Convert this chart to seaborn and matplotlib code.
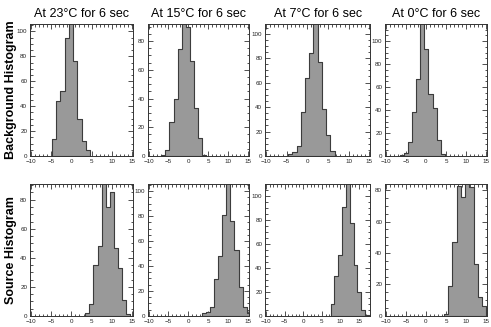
import pandas as pd
import seaborn as sns
import matplotlib.pyplot as plt
from matplotlib.ticker import MultipleLocator

sns.set_style("ticks")
plt.rcParams['font.family'] = ['Liberation Sans', 'DejaVu Sans']
plt.rcParams['text.color'] = 'black'

# titles per column, labels per row
titles = ["At 23°C for 6 sec", "At 15°C for 6 sec", "At 7°C for 6 sec", "At 0°C for 6 sec"]
row_labels = ["Background Histogram", "Source Histogram"]

# histogram bins (start of first bin, bin width) and counts
bg_start = [-4.8, -6.8, -4.65, -6.45]
bg_width = [1.05, 1.02, 1.02, 1.01]
bg_counts = [
    [14, 44, 52, 95, 115, 76, 30, 12, 5],
    [1, 4, 24, 40, 74.5, 100, 89.5, 66, 33.5, 12.6, 1],
    [2, 3, 8, 36, 64, 84, 115, 77, 38, 17, 4],
    [1, 2.6, 12, 38, 67, 120, 93, 54, 41.5, 14, 2],
]
src_start = [3.45, 3.4, 7.35, 4.5]
src_width = [1.0, 1.02, 1.03, 1.05]
src_counts = [
    [2, 8, 35, 48, 95, 75, 85, 47, 33, 11, 1],
    [2, 3.5, 7, 29.5, 48, 81, 110, 76, 53, 23.5, 7, 2],
    [10, 33, 51, 91, 115, 77, 42.5, 20, 5, 1],
    [1, 19, 47, 82.5, 75.5, 85, 82, 33, 12, 6],
]

# axis ranges
bg_ymax = [106, 92, 108, 115]
src_ymax = [91, 106, 110, 84]
bg_xmax = [15.2, 15.2, 15.2, 15.2]
src_xmax = [15.2, 15.2, 18, 15.2]

fig = plt.figure(figsize=(4.91, 3.27), dpi=100)

lefts = [0.061, 0.301, 0.540, 0.784]
widths = [0.210, 0.206, 0.214, 0.208]
bottoms = [0.523, 0.034]
height = 0.404

rows = [
    (bg_start, bg_width, bg_counts, bg_ymax, bg_xmax),
    (src_start, src_width, src_counts, src_ymax, src_xmax),
]

for r, (starts, bw, counts, ymaxs, xmaxs) in enumerate(rows):
    for c in range(4):
        ax = fig.add_axes([lefts[c], bottoms[r], widths[c], height])
        n = len(counts[c])
        edges = [starts[c] + bw[c] * i for i in range(n + 1)]
        df = pd.DataFrame({
            "x": [(edges[i] + edges[i + 1]) / 2 for i in range(n)],
            "w": counts[c],
        })
        sns.histplot(data=df, x="x", weights="w", bins=edges, ax=ax,
                     element="step", fill=True, color="#999999",
                     edgecolor="#3c3c3c", linewidth=0.8, alpha=1)
        ax.set_xlim(-10.2, xmaxs[c])
        ax.set_ylim(0, ymaxs[c])
        ax.set_xlabel("")
        ax.set_ylabel("")
        ax.xaxis.set_major_locator(MultipleLocator(5))
        ax.xaxis.set_minor_locator(MultipleLocator(1))
        ax.yaxis.set_major_locator(MultipleLocator(20))
        ax.yaxis.set_minor_locator(MultipleLocator(5))
        ax.tick_params(which="both", direction="in", top=True, right=True,
                       pad=2, width=0.6, color="#333333", labelcolor="#222222")
        ax.tick_params(which="major", length=3.5)
        ax.tick_params(which="minor", length=1.8)
        for lab in ax.get_xticklabels() + ax.get_yticklabels():
            lab.set_fontsize(4.5)
            lab.set_family(['Liberation Sans Narrow', 'Liberation Sans', 'DejaVu Sans'])
        for s in ax.spines.values():
            s.set_linewidth(0.7)
            s.set_color("#333333")
        if r == 0:
            ax.set_title(titles[c], fontsize=9, pad=5, color="black")

fig.text(0.022, bottoms[0] + height / 2, row_labels[0], rotation=90,
         fontsize=9, fontweight="bold", ha="center", va="center")
fig.text(0.022, bottoms[1] + height / 2, row_labels[1], rotation=90,
         fontsize=9, fontweight="bold", ha="center", va="center")

fig.savefig("out.png", dpi=100)
